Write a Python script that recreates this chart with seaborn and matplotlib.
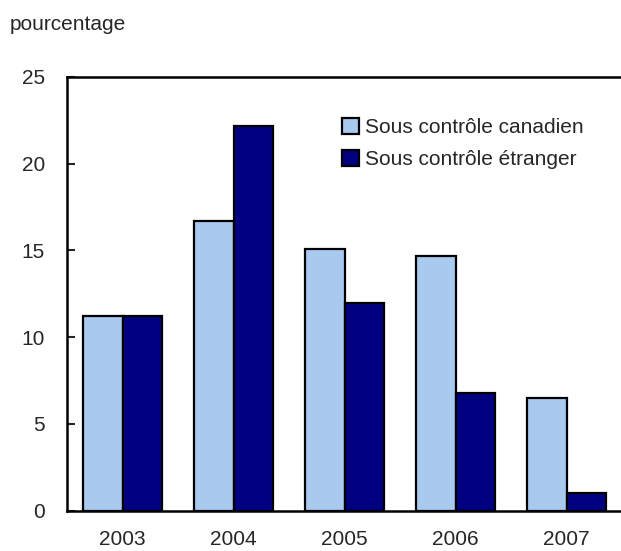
import matplotlib
matplotlib.use("Agg")
import matplotlib.pyplot as plt
import seaborn as sns
import pandas as pd

years = ["2003", "2004", "2005", "2006", "2007"]
canadien = [11.2, 16.7, 15.1, 14.7, 6.5]
etranger = [11.2, 22.2, 12.0, 6.8, 1.0]
series_names = ["Sous contrôle canadien", "Sous contrôle étranger"]
y_ticks = [0, 5, 10, 15, 20, 25]

df = pd.DataFrame({
    "annee": years * 2,
    "valeur": canadien + etranger,
    "serie": [series_names[0]] * len(years) + [series_names[1]] * len(years),
})

sns.set_style("white")
plt.rcParams["font.family"] = ["Liberation Sans", "DejaVu Sans"]

fs = 15

fig = plt.figure(figsize=(6.21, 5.51), dpi=100)
ax = fig.add_axes([67 / 621, 1 - 510.7 / 551, 555 / 621, (510.7 - 77) / 551])

sns.barplot(data=df, x="annee", y="valeur", hue="serie",
            palette=["#A8CAEF", "#000080"], edgecolor="black", linewidth=1.6,
            width=0.72, gap=0, ax=ax, saturation=1)

ax.set_ylim(0, 25)
ax.set_xlim(-0.5, 4.5)
ax.set_yticks(y_ticks)
ax.set_xlabel("")
ax.set_ylabel("")
ax.spines["right"].set_visible(False)
for s in ["left", "top", "bottom"]:
    ax.spines[s].set_visible(True)
    ax.spines[s].set_color("black")
    ax.spines[s].set_linewidth(1.8)
ax.tick_params(axis="y", direction="in", length=6, width=1.5, labelsize=fs, pad=16, left=True)
ax.tick_params(axis="x", length=0, labelsize=fs, pad=14)

leg = ax.legend(loc="upper left", bbox_to_anchor=(342 / 621, 1 - 118 / 551),
                bbox_transform=fig.transFigure, frameon=False, fontsize=fs,
                handlelength=0.8, handleheight=0.8, handletextpad=0.3,
                labelspacing=0.6, borderaxespad=0, borderpad=0)

fig.text(10 / 621, 1 - 25 / 551, "pourcentage", fontsize=fs, va="center", ha="left")

fig.savefig("out.png", dpi=100)
